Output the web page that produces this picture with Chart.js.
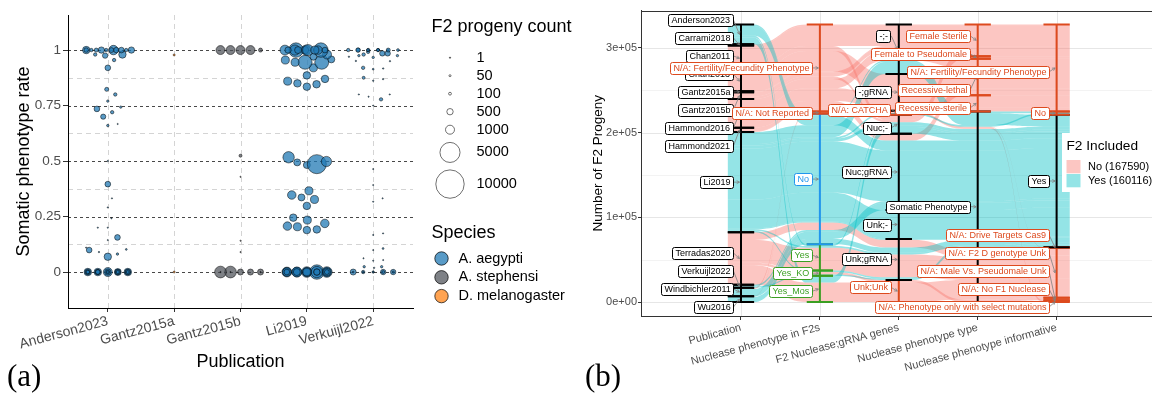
<!DOCTYPE html>
<html>
<head>
<meta charset="utf-8">
<script src="https://cdn.jsdelivr.net/npm/chart.js@4.4.1/dist/chart.umd.min.js"></script>
<style>
  html, body { margin: 0; padding: 0; background: #ffffff; }
  #wrap { position: relative; width: 1152px; height: 394px; overflow: hidden; background: #fff; }
  #ca { position: absolute; left: 0; top: 0; }
  #cb { position: absolute; left: 580px; top: 0; }
</style>
</head>
<body>
<div id="wrap">
  <canvas id="ca" width="580" height="394"></canvas>
  <canvas id="cb" width="572" height="394"></canvas>
</div>
<script>
// ===================== (a) somatic phenotype rate per publication =====================
const publications = ['Anderson2023', 'Gantz2015a', 'Gantz2015b', 'Li2019', 'Verkuijl2022'];
const publicationSpecies = ['A. aegypti', 'D. melanogaster', 'A. stephensi', 'A. aegypti', 'A. aegypti'];
const speciesNames = ['A. aegypti', 'A. stephensi', 'D. melanogaster'];
const rateTicks = [0, 0.25, 0.5, 0.75, 1];
const rateMinorLines = [0.125, 0.375, 0.625, 0.875];
const progenyBreaks = [1, 50, 100, 500, 1000, 5000, 10000];

// each entry: [somatic phenotype rate, F2 progeny count]
const anderson2023 = [
  [0, 1000], [0, 600], [0, 700], [0, 700], [0, 700], [0, 400], [0, 400], [0, 300], [0, 400], [0, 500],
  [0, 200], [0, 300], [0, 350], [0, 300], [0, 200], [0, 150], [0, 100], [0, 250], [0, 120], [0, 80],
  [0.069, 680], [0.081, 71], [0.09, 24], [0.099, 400], [0.102, 40], [0.11, 12], [0.144, 12], [0.156, 400],
  [0.2, 12], [0.2, 12], [0.242, 12], [0.291, 12], [0.332, 12], [0.396, 400], [0.5, 24],
  [0.66, 71], [0.667, 12], [0.70, 330], [0.72, 143], [0.735, 400], [0.743, 71], [0.77, 71], [0.80, 143],
  [0.823, 200], [0.92, 400], [0.955, 143], [0.975, 361], [0.98, 143], [0.98, 680],
  [1, 1100], [1, 680], [1, 500], [1, 143], [1, 143], [1, 361], [1, 500], [1, 143], [1, 300], [1, 200],
  [1, 400], [1, 250]
];
const gantz2015a = [[0, 50], [0.978, 50]];
const gantz2015b = [
  [0, 450], [0, 450], [0, 1700], [0, 450], [0, 1700], [0, 12], [0, 12], [0, 12],
  [0.09, 12], [0.141, 12], [0.429, 12], [0.524, 110],
  [1, 1000], [1, 1000], [1, 1000], [1, 200], [1, 1000]
];
const li2019 = [
  [0, 1400], [0, 2600], [0, 1200], [0, 1400], [0, 1200], [0, 800], [0, 1000], [0, 900], [0, 1600], [0, 1000],
  [0, 600], [0, 500], [0, 1200], [0, 700], [0, 900], [0, 400], [0, 300], [0, 600], [0, 500], [0, 800],
  [0.189, 700], [0.192, 700], [0.204, 800], [0.207, 900], [0.219, 900], [0.234, 800], [0.245, 700],
  [0.298, 700], [0.327, 800], [0.336, 600], [0.347, 900], [0.366, 800],
  [0.482, 600], [0.486, 4500], [0.494, 600], [0.498, 1300], [0.517, 1600],
  [0.835, 700], [0.846, 700], [0.85, 700], [0.86, 800], [0.87, 700], [0.886, 700], [0.92, 800],
  [0.945, 2400], [0.945, 800], [0.945, 2400], [0.955, 800], [0.958, 600], [0.97, 600], [0.98, 1000],
  [1, 1200], [1, 2600], [1, 2600], [1, 1200], [1, 1300], [1, 900], [1, 700], [1, 1500], [1, 800], [1, 600],
  [1, 400], [1, 500]
];
const verkuijl2022 = [
  [0, 71], [0, 361], [0, 143], [0, 361], [0, 446], [0, 40], [0, 60], [0, 24], [0, 100], [0, 24],
  [0.019, 24], [0.024, 71], [0.024, 71], [0.051, 12], [0.054, 12], [0.062, 12], [0.099, 12], [0.106, 40],
  [0.167, 12], [0.174, 12], [0.317, 12], [0.332, 12], [0.392, 12], [0.464, 12],
  [0.75, 12], [0.778, 143], [0.79, 12], [0.80, 12], [0.80, 12], [0.862, 24], [0.869, 24], [0.875, 110],
  [0.914, 40], [0.917, 24], [0.92, 143], [0.95, 24], [0.951, 24],
  [0.967, 71], [0.97, 24], [0.975, 71], [0.975, 71], [0.98, 143], [0.985, 361], [0.985, 361], [0.992, 143],
  [1, 100], [1, 60], [1, 143], [1, 40], [1, 200], [1, 100], [1, 143], [1, 240], [1, 200], [1, 100],
  [1, 60], [1, 143]
];
const publicationPoints = [anderson2023, gantz2015a, gantz2015b, li2019, verkuijl2022];

// ===================== (b) alluvial flow of F2 progeny =====================
const axisNames = ['Publication', 'Nuclease phenotype in F2s', 'F2 Nuclease;gRNA genes',
  'Nuclease phenotype type', 'Nuclease phenotype informative'];
const publicationStrata = ['Anderson2023', 'Carrami2018', 'Chan2011', 'Chan2013', 'Gantz2015a', 'Gantz2015b',
  'Hammond2016', 'Hammond2021', 'Li2019', 'Terradas2020', 'Verkuijl2022', 'Windbichler2011', 'Wu2016'];
const phenotypeF2Strata = ['N/A: Fertility/Fecundity Phenotype', 'N/A: Not Reported', 'No', 'Yes', 'Yes_KO', 'Yes_Mos'];
const geneStrata = ['-;-', '-;gRNA', 'N/A: CATCHA', 'Nuc;-', 'Nuc;gRNA', 'Unk;-', 'Unk;gRNA', 'Unk;Unk'];
const typeStrata = ['Female Sterile', 'Female to Pseudomale', 'Recessive-lethal', 'Recessive-sterile', 'Somatic Phenotype'];
const informativeStrata = ['N/A: Fertility/Fecundity Phenotype', 'No', 'Yes', 'N/A: Drive Targets Cas9',
  'N/A: F2 D genotype Unk', 'N/A: Male Vs. Pseudomale Unk', 'N/A: No F1 Nuclease',
  'N/A: Phenotype only with select mutations'];
const progenyTicks = [0, 100000, 200000, 300000];
const includedLevels = ['No', 'Yes'];

const FERT = 'N/A: Fertility/Fecundity Phenotype';
const NREP = 'N/A: Not Reported';
const SOM = 'Somatic Phenotype';
const F2D = 'N/A: F2 D genotype Unk';
const flowPublication = ['Carrami2018', 'Chan2011', 'Chan2011', 'Chan2013', 'Gantz2015a', 'Gantz2015b', 'Gantz2015b',
  'Hammond2016', 'Hammond2016', 'Hammond2016', 'Hammond2021', 'Hammond2021',
  'Terradas2020', 'Terradas2020', 'Terradas2020', 'Terradas2020', 'Windbichler2011', 'Wu2016',
  'Anderson2023', 'Anderson2023', 'Anderson2023', 'Anderson2023',
  'Li2019', 'Li2019', 'Li2019', 'Li2019', 'Li2019', 'Li2019', 'Li2019', 'Li2019',
  'Verkuijl2022', 'Verkuijl2022', 'Windbichler2011', 'Wu2016'];
const flowPhenotypeF2 = [FERT, FERT, FERT, FERT, FERT, FERT, FERT, FERT, FERT, FERT, FERT, NREP,
  'Yes', 'Yes_Mos', 'No', 'Yes_KO', NREP, NREP,
  'No', 'Yes_Mos', 'No', 'Yes',
  'No', 'No', 'No', 'No', 'Yes', 'No', 'Yes_KO', 'No',
  'Yes_KO', 'No', 'No', 'No'];
const flowGenes = ['-;-', '-;-', 'Nuc;-', '-;gRNA', '-;-', '-;-', 'Nuc;-', '-;-', 'Nuc;gRNA', '-;gRNA', '-;gRNA', 'N/A: CATCHA',
  'Unk;gRNA', 'Unk;Unk', 'Unk;gRNA', 'Unk;Unk', 'N/A: CATCHA', 'N/A: CATCHA',
  'Nuc;gRNA', 'Nuc;-', '-;-', 'Nuc;-',
  'Nuc;gRNA', 'Unk;-', 'Nuc;-', '-;-', 'Unk;gRNA', 'N/A: CATCHA', 'Unk;gRNA', 'Unk;gRNA',
  'Unk;gRNA', 'Nuc;gRNA', 'Nuc;gRNA', 'Unk;gRNA'];
const flowType = ['Female Sterile', 'Female Sterile', 'Female Sterile', 'Recessive-lethal', 'Female Sterile',
  'Female Sterile', 'Female to Pseudomale', 'Recessive-lethal', 'Recessive-lethal', 'Recessive-sterile',
  'Recessive-sterile', SOM,
  SOM, SOM, SOM, SOM, SOM, SOM,
  SOM, SOM, SOM, SOM,
  SOM, SOM, SOM, SOM, SOM, SOM, SOM, SOM,
  SOM, SOM, SOM, SOM];
const flowInformative = [FERT, FERT, FERT, FERT, FERT, FERT, FERT, FERT, FERT, FERT, FERT, 'N/A: Drive Targets Cas9',
  F2D, F2D, F2D, 'N/A: Male Vs. Pseudomale Unk', 'N/A: No F1 Nuclease', 'N/A: Phenotype only with select mutations',
  'Yes', 'Yes', 'No', 'Yes',
  'Yes', 'Yes', 'Yes', 'Yes', 'Yes', 'No', 'Yes', 'Yes',
  'Yes', 'Yes', 'Yes', 'Yes'];
const flowProgeny = [1500, 24000, 6000, 24000, 1000, 5000, 3000, 11000, 8000, 15000, 4300, 700,
  27000, 23000, 9000, 3000, 1500, 590,
  11500, 8000, 2000, 2000,
  60000, 34000, 3600, 14000, 2000, 1900, 1700, 1100,
  1500, 2000, 8500, 6316];
const flowIncluded = ['No', 'No', 'No', 'No', 'No', 'No', 'No', 'No', 'No', 'No', 'No', 'No',
  'No', 'No', 'No', 'No', 'No', 'No',
  'Yes', 'Yes', 'Yes', 'Yes',
  'Yes', 'Yes', 'Yes', 'Yes', 'Yes', 'Yes', 'Yes', 'Yes',
  'Yes', 'Yes', 'Yes', 'Yes'];

// ===================== styles =====================
const FONT = '"Liberation Sans", Arial, Helvetica, sans-serif';
Chart.defaults.font.family = FONT;
const speciesFill = ['rgba(31,120,180,0.74)', 'rgba(76,80,88,0.72)', 'rgba(255,127,14,0.72)'];
const includedFill = ['rgba(248,118,109,0.42)', 'rgba(0,191,196,0.42)'];
const includedKey = ['rgba(248,118,109,0.42)', 'rgba(0,191,196,0.42)'];
const RED = '#DD4A1E', BLUE = '#2196EE', GREEN = '#3B9F22', BLACK = '#000000';
const strataColors = [
  publicationStrata.map(() => BLACK),
  [RED, RED, BLUE, GREEN, GREEN, GREEN],
  [BLACK, BLACK, RED, BLACK, BLACK, BLACK, BLACK, RED],
  [RED, RED, RED, RED, BLACK],
  [RED, RED, BLACK, RED, RED, RED, RED, RED]
];

// point radius from progeny count (area proportional)
const sizeRadius = n => Math.max(0.6, 0.142 * Math.sqrt(n));

// ---------- beeswarm layout (pixel space), wrapped inside a corral ----------
function swarm(ysPx, rates, d) {
  const order = rates.map((_, i) => i).sort((a, b) => rates[a] - rates[b] || a - b);
  const placed = [];
  const off = new Array(ysPx.length).fill(0);
  for (const i of order) {
    const y = ysPx[i];
    const near = placed.filter(p => Math.abs(p.y - y) < d);
    const cands = [0];
    near.forEach(p => {
      const dx = Math.sqrt(d * d - (p.y - y) * (p.y - y));
      cands.push(p.x - dx, p.x + dx);
    });
    cands.sort((a, b) => Math.abs(a) - Math.abs(b) || b - a);
    let chosen = cands[cands.length - 1];
    for (const c of cands) {
      if (near.every(p => (p.x - c) ** 2 + (p.y - y) ** 2 >= d * d - 1e-6)) { chosen = c; break; }
    }
    placed.push({ x: chosen, y });
    off[i] = chosen;
  }
  return off;
}
const wrapOffset = (o, w) => ((o + w) % (2 * w) + 2 * w) % (2 * w) - w;

// ---------- panel (a) background grid ----------
const gridA = {
  id: 'gridA',
  beforeDraw(chart) {
    const { ctx, chartArea: a, scales: { x, y } } = chart;
    ctx.save();
    ctx.fillStyle = '#fff';
    ctx.fillRect(0, 0, chart.width, chart.height);
    ctx.lineWidth = 0.8;
    ctx.strokeStyle = '#C9C9C9';
    ctx.setLineDash([5, 4]);
    publications.forEach((_, i) => {
      const px = Math.round(x.getPixelForValue(i)) + 0.5;
      ctx.beginPath(); ctx.moveTo(px, a.top); ctx.lineTo(px, a.bottom); ctx.stroke();
    });
    rateMinorLines.forEach(v => {
      const py = Math.round(y.getPixelForValue(v)) + 0.5;
      ctx.beginPath(); ctx.moveTo(a.left, py); ctx.lineTo(a.right, py); ctx.stroke();
    });
    ctx.strokeStyle = '#1A1A1A';
    ctx.setLineDash([3, 3]);
    rateTicks.forEach(v => {
      const py = Math.round(y.getPixelForValue(v)) + 0.5;
      ctx.beginPath(); ctx.moveTo(a.left, py); ctx.lineTo(a.right, py); ctx.stroke();
    });
    ctx.restore();
  }
};

// ---------- panel (a) legends and tag ----------
const legendA = {
  id: 'legendA',
  afterDraw(chart) {
    const { ctx, chartArea: a } = chart;
    const lx = a.right + 18.5;
    ctx.save();
    ctx.textBaseline = 'middle';
    ctx.textAlign = 'left';
    ctx.fillStyle = '#000';
    ctx.font = '18px ' + FONT;
    ctx.fillText('F2 progeny count', lx, 27);
    let yy = 48.7;
    ctx.font = '14.5px ' + FONT;
    progenyBreaks.forEach(n => {
      const r = sizeRadius(n);
      const h = Math.max(18, 2 * r + 7.4);
      const cy = yy + h / 2;
      ctx.beginPath();
      ctx.arc(lx + 18.5, cy, r, 0, Math.PI * 2);
      ctx.fillStyle = '#fff'; ctx.fill();
      ctx.strokeStyle = n === 1 ? '#000' : '#333'; ctx.lineWidth = 0.7; ctx.stroke();
      ctx.fillStyle = '#000';
      ctx.fillText(String(n), lx + 45, cy);
      yy += h;
    });
    ctx.font = '18px ' + FONT;
    ctx.fillText('Species', lx, 233);
    ctx.font = '14.5px ' + FONT;
    speciesNames.forEach((s, i) => {
      const cy = 258.5 + i * 18.8;
      ctx.beginPath();
      ctx.arc(lx + 10, cy, 6.7, 0, Math.PI * 2);
      ctx.fillStyle = speciesFill[i]; ctx.fill();
      ctx.strokeStyle = '#000'; ctx.lineWidth = 0.7; ctx.stroke();
      ctx.fillStyle = '#000';
      ctx.fillText(s, lx + 27, cy);
    });
    ctx.font = '31px "Liberation Serif", "DejaVu Serif", serif';
    ctx.fillText('(a)', 7, 378);
    ctx.restore();
  }
};

const chartA = new Chart(document.getElementById('ca'), {
  type: 'bubble',
  data: {
    datasets: publicationPoints.map((pts, k) => ({
      label: publications[k],
      data: pts.map(p => ({ x: k, y: p[0], r: sizeRadius(p[1]) })),
      backgroundColor: speciesFill[speciesNames.indexOf(publicationSpecies[k])],
      borderColor: 'rgba(0,0,0,0.85)',
      borderWidth: 0.6
    }))
  },
  options: {
    responsive: false, animation: false, events: [],
    layout: { padding: { left: 0, top: 15, right: 167, bottom: 0 } },
    plugins: { legend: { display: false }, tooltip: { enabled: false } },
    scales: {
      x: {
        type: 'linear', min: -0.6, max: 4.6,
        afterBuildTicks: s => { s.ticks = publications.map((_, i) => ({ value: i })); },
        afterFit: s => { s.height = 86; },
        ticks: { callback: v => publications[v], minRotation: 15, maxRotation: 15, autoSkip: false,
                 color: '#4D4D4D', font: { size: 14 }, padding: 1 },
        grid: { drawOnChartArea: false, drawTicks: true, tickLength: 4, tickColor: '#333' },
        border: { display: true, color: '#000', width: 1 },
        title: { display: true, text: 'Publication', color: '#000', font: { size: 18 }, padding: { top: 0, bottom: 21 } }
      },
      y: {
        type: 'linear', min: -0.162, max: 1.158,
        afterBuildTicks: s => { s.ticks = rateTicks.map(v => ({ value: v })); },
        afterFit: s => { s.width = 68; },
        ticks: { callback: v => String(v), color: '#4D4D4D', font: { size: 13.5 }, padding: 2 },
        grid: { drawOnChartArea: false, drawTicks: true, tickLength: 5, tickColor: '#333' },
        border: { display: true, color: '#000', width: 1 },
        title: { display: true, text: 'Somatic phenotype rate', color: '#000', font: { size: 18 }, padding: { top: 13, bottom: 0 } }
      }
    }
  },
  plugins: [gridA, legendA]
});

// spread points of each publication into a swarm
(function () {
  const xs = chartA.scales.x, ys = chartA.scales.y;
  const ppu = xs.getPixelForValue(1) - xs.getPixelForValue(0);
  chartA.data.datasets.forEach((ds, k) => {
    const pts = publicationPoints[k];
    const py = pts.map(p => ys.getPixelForValue(p[0]));
    const off = swarm(py, pts.map(p => p[0]), 10);
    ds.data = pts.map((p, i) => ({ x: k + wrapOffset(off[i], 25) / ppu, y: p[0], r: sizeRadius(p[1]) }));
  });
  chartA.update('none');
})();

// ===================== panel (b) geometry from the flow table =====================
const axesStrata = [publicationStrata, phenotypeF2Strata, geneStrata, typeStrata, informativeStrata];
const flowAxes = [flowPublication, flowPhenotypeF2, flowGenes, flowType, flowInformative];
const nFlows = flowProgeny.length;
const grandTotal = flowProgeny.reduce((s, v) => s + v, 0);
const stratumIndex = flowAxes.map((col, a) => col.map(name => axesStrata[a].indexOf(name)));
const strata = axesStrata.map((names, a) => {
  let top = grandTotal;
  return names.map((name, s) => {
    const size = flowProgeny.reduce((acc, v, f) => acc + (stratumIndex[a][f] === s ? v : 0), 0);
    const st = { name, top, bottom: top - size, color: strataColors[a][s] };
    top -= size;
    return st;
  });
});
const lodes = flowAxes.map(() => new Array(nFlows));
for (let a = 0; a < flowAxes.length; a++) {
  const guide = [a];
  for (let k = 1; k < flowAxes.length; k++) {
    if (a - k >= 0) guide.push(a - k);
    if (a + k < flowAxes.length) guide.push(a + k);
  }
  const idx = [...Array(nFlows).keys()].sort((f, g) => {
    for (const b of guide) { const d = stratumIndex[b][f] - stratumIndex[b][g]; if (d) return d; }
    return f - g;
  });
  const cursor = strata[a].map(s => s.top);
  idx.forEach(f => {
    const s = stratumIndex[a][f];
    lodes[a][f] = { top: cursor[s], bottom: cursor[s] - flowProgeny[f] };
    cursor[s] -= flowProgeny[f];
  });
}
const includedTotals = includedLevels.map(l => flowProgeny.reduce((s, v, f) => s + (flowIncluded[f] === l ? v : 0), 0));

function sci(v) {
  if (v === 0) return '0e+00';
  const e = Math.floor(Math.log10(Math.abs(v)));
  return (v / Math.pow(10, e)) + 'e+' + String(e).padStart(2, '0');
}

function drawArrow(ctx, x0, y0, x1, y1) {
  ctx.beginPath(); ctx.moveTo(x0, y0); ctx.lineTo(x1, y1); ctx.stroke();
  const ang = Math.atan2(y1 - y0, x1 - x0), L = 3.2;
  ctx.beginPath();
  ctx.moveTo(x1 - L * Math.cos(ang - 0.5), y1 - L * Math.sin(ang - 0.5));
  ctx.lineTo(x1, y1);
  ctx.lineTo(x1 - L * Math.cos(ang + 0.5), y1 - L * Math.sin(ang + 0.5));
  ctx.stroke();
}

// push overlapping label boxes apart vertically, keeping each axis' labels in stratum order
function repel(items, gap, lo, hi) {
  const interacts = (p, q) => p.a === q.a || (p.a > 0 && q.a > 0 && p.x0 < q.x1 && q.x0 < p.x1);
  const axesIds = [...new Set(items.map(l => l.a))];
  items.forEach(l => { l.y = Math.min(hi, Math.max(lo, l.ty)); });
  for (let it = 0; it < 800; it++) {
    let moved = false;
    for (let i = 0; i < items.length; i++) {
      for (let j = i + 1; j < items.length; j++) {
        const p = items[i], q = items[j];
        if (!interacts(p, q)) continue;
        const d = q.y - p.y;
        const dir = (d > 0 || (d === 0 && q.ty >= p.ty)) ? 1 : -1;
        const ov = gap - Math.abs(d);
        if (ov > 0.01) { p.y -= dir * ov / 2; q.y += dir * ov / 2; moved = true; }
      }
    }
    items.forEach(l => { l.y = Math.min(hi, Math.max(lo, l.y)); });
    axesIds.forEach(a => {
      const g = items.filter(l => l.a === a);
      const ys = g.map(l => l.y).sort((u, v) => u - v);
      g.forEach((l, k) => { l.y = ys[k]; });
    });
    if (!moved) break;
  }
}

const HALF = 1 / 6;
const alluvialPlugin = {
  id: 'alluvial',
  beforeDraw(chart) {
    const { ctx, chartArea: a, scales: { x, y } } = chart;
    ctx.save();
    ctx.fillStyle = '#fff';
    ctx.fillRect(0, 0, chart.width, chart.height);
    ctx.lineWidth = 1;
    ctx.strokeStyle = '#F3F3F3';
    for (let v = 50000; v < 344091; v += 100000) {
      const py = Math.round(y.getPixelForValue(v)) + 0.5;
      ctx.beginPath(); ctx.moveTo(a.left, py); ctx.lineTo(a.right, py); ctx.stroke();
    }
    ctx.strokeStyle = '#E6E6E6';
    progenyTicks.forEach(v => {
      const py = Math.round(y.getPixelForValue(v)) + 0.5;
      ctx.beginPath(); ctx.moveTo(a.left, py); ctx.lineTo(a.right, py); ctx.stroke();
    });
    axisNames.forEach((_, i) => {
      const px = Math.round(x.getPixelForValue(i)) + 0.5;
      ctx.beginPath(); ctx.moveTo(px, a.top); ctx.lineTo(px, a.bottom); ctx.stroke();
    });
    ctx.restore();
  },
  beforeDatasetsDraw(chart) {
    const { ctx, chartArea: area, scales: { x, y } } = chart;
    const X = v => x.getPixelForValue(v), Y = v => y.getPixelForValue(v);
    ctx.save();
    ctx.beginPath(); ctx.rect(area.left, area.top, area.right - area.left, area.bottom - area.top); ctx.clip();
    // ribbons
    for (let f = 0; f < nFlows; f++) {
      ctx.beginPath();
      let px = 0, py = 0;
      for (let a = 0; a < flowAxes.length; a++) {
        const x0 = X(a - HALF), x1 = X(a + HALF), yt = Y(lodes[a][f].top);
        if (a === 0) ctx.moveTo(x0, yt);
        else { const mx = (px + x0) / 2; ctx.bezierCurveTo(mx, py, mx, yt, x0, yt); }
        ctx.lineTo(x1, yt);
        px = x1; py = yt;
      }
      for (let a = flowAxes.length - 1; a >= 0; a--) {
        const x0 = X(a - HALF), x1 = X(a + HALF), yb = Y(lodes[a][f].bottom);
        if (a === flowAxes.length - 1) ctx.lineTo(x1, yb);
        else { const mx = (px + x1) / 2; ctx.bezierCurveTo(mx, py, mx, yb, x1, yb); }
        ctx.lineTo(x0, yb);
        px = x0; py = yb;
      }
      ctx.closePath();
      ctx.fillStyle = includedFill[includedLevels.indexOf(flowIncluded[f])];
      ctx.fill();
    }
    // strata as bracketed bars, lower strata first so upper caps stay on top
    ctx.lineWidth = 2;
    strata.forEach((list, a) => {
      const cx = X(a), x0 = X(a - HALF), x1 = X(a + HALF);
      for (let s = list.length - 1; s >= 0; s--) {
        const st = list[s];
        if (st.top - st.bottom <= 0) continue;
        const yt = Y(st.top), yb = Y(st.bottom);
        ctx.strokeStyle = st.color;
        ctx.beginPath();
        ctx.moveTo(cx, yt); ctx.lineTo(cx, yb);
        ctx.moveTo(x0, yt); ctx.lineTo(x1, yt);
        ctx.moveTo(x0, yb); ctx.lineTo(x1, yb);
        ctx.stroke();
      }
    });
    ctx.restore();
  },
  afterDraw(chart) {
    const { ctx, chartArea: area, scales: { x, y } } = chart;
    ctx.save();
    // panel border (top edge)
    ctx.strokeStyle = '#333'; ctx.lineWidth = 1;
    ctx.beginPath(); ctx.moveTo(area.left, Math.round(area.top) + 0.5); ctx.lineTo(area.right, Math.round(area.top) + 0.5); ctx.stroke();

    // stratum labels
    ctx.font = '9px ' + FONT;
    const labels = [];
    strata.forEach((list, a) => list.forEach(st => {
      if (st.top - st.bottom <= 0) return;
      const w = ctx.measureText(st.name).width + 6;
      const xr = x.getPixelForValue(a) - 8;
      labels.push({ a, text: st.name, color: st.color, x0: xr - w, x1: xr, ax: x.getPixelForValue(a) - 1.5,
                    ty: y.getPixelForValue((st.top + st.bottom) / 2) });
    }));
    repel(labels, 18, area.top + 9.5, area.bottom - 9);
    ctx.strokeStyle = '#808080'; ctx.lineWidth = 0.8;
    labels.forEach(l => drawArrow(ctx, l.x1 + 0.5, l.y, l.ax, l.ty));
    ctx.textBaseline = 'middle'; ctx.textAlign = 'left';
    labels.forEach(l => {
      ctx.beginPath();
      ctx.roundRect(Math.round(l.x0) + 0.5, Math.round(l.y - 6) + 0.5, Math.round(l.x1 - l.x0), 12, 2);
      ctx.fillStyle = '#fff'; ctx.fill();
      ctx.strokeStyle = l.color; ctx.lineWidth = 1; ctx.stroke();
      ctx.fillStyle = l.color;
      ctx.fillText(l.text, Math.round(l.x0) + 3.5, Math.round(l.y) + 1);
    });

    // fill legend
    const lx = 482, ly = 133;
    ctx.fillStyle = '#fff';
    ctx.fillRect(lx, ly, chart.width - lx, 59);
    ctx.fillStyle = '#000';
    ctx.font = '13.7px ' + FONT;
    ctx.fillText('F2 Included', lx + 4.5, ly + 13);
    ctx.font = '11px ' + FONT;
    includedLevels.forEach((lev, i) => {
      const ky = ly + 27 + i * 14;
      ctx.fillStyle = includedKey[i];
      ctx.fillRect(lx + 4.5, ky, 14, 13.3);
      ctx.fillStyle = '#000';
      ctx.fillText(lev + ' (' + includedTotals[i] + ')', lx + 26, ky + 7);
    });

    ctx.font = '31px "Liberation Serif", "DejaVu Serif", serif';
    ctx.fillStyle = '#000';
    ctx.fillText('(b)', 5, 378);
    ctx.restore();
  }
};

const chartB = new Chart(document.getElementById('cb'), {
  type: 'scatter',
  data: { datasets: [] },
  options: {
    responsive: false, animation: false, events: [],
    layout: { padding: { left: 0, top: 10.5, right: 0, bottom: 0 } },
    plugins: { legend: { display: false }, tooltip: { enabled: false } },
    scales: {
      x: {
        type: 'linear', min: -1.267, max: 5.209,
        afterBuildTicks: s => { s.ticks = axisNames.map((_, i) => ({ value: i })); },
        afterFit: s => { s.height = 78; },
        ticks: { callback: v => axisNames[v], minRotation: 15, maxRotation: 15, autoSkip: false,
                 color: '#4D4D4D', font: { size: 11 }, padding: 1 },
        grid: { drawOnChartArea: false, drawTicks: true, tickLength: 4, tickColor: '#333' },
        border: { display: true, color: '#333', width: 1 }
      },
      y: {
        type: 'linear', min: -16385, max: 344091,
        afterBuildTicks: s => { s.ticks = progenyTicks.map(v => ({ value: v })); },
        afterFit: s => { s.width = 61; },
        ticks: { callback: v => sci(v), color: '#4D4D4D', font: { size: 11 }, padding: 1 },
        grid: { drawOnChartArea: false, drawTicks: true, tickLength: 3, tickColor: '#333' },
        border: { display: true, color: '#333', width: 1 },
        title: { display: true, text: 'Number of F2 Progeny', color: '#000', font: { size: 13.5 }, padding: { top: 10, bottom: 0 } }
      }
    }
  },
  plugins: [alluvialPlugin]
});
</script>
</body>
</html>
